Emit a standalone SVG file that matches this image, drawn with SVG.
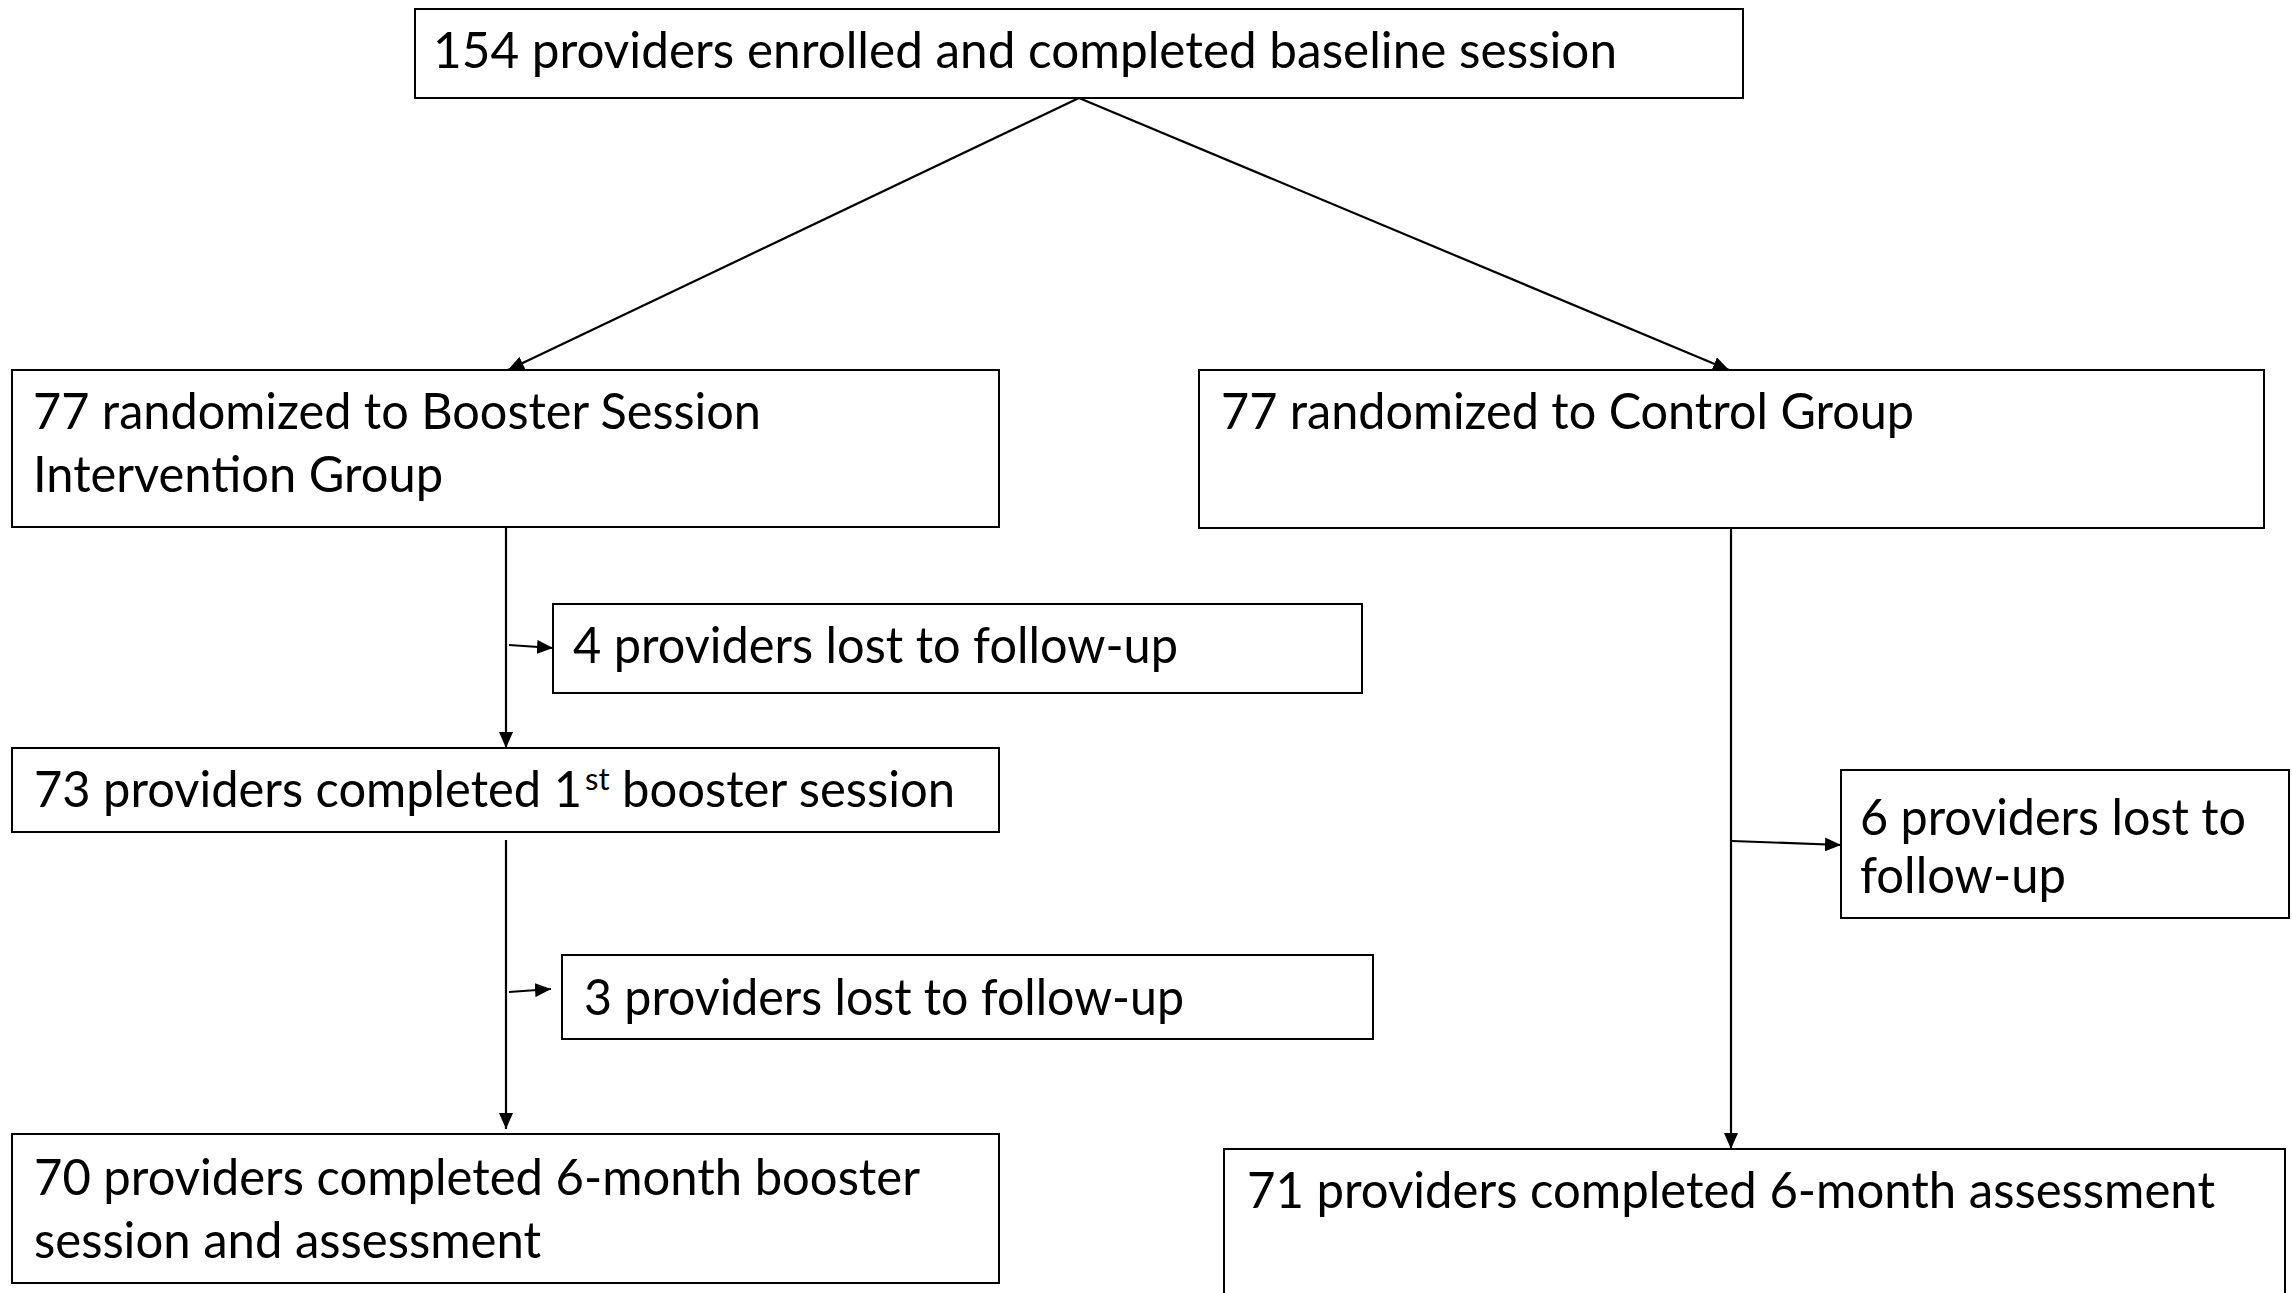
<svg xmlns="http://www.w3.org/2000/svg" width="2292" height="1293" viewBox="0 0 2292 1293">
  <defs>
    <marker id="arrow" markerUnits="userSpaceOnUse" markerWidth="16" markerHeight="14" refX="16" refY="7" orient="auto">
      <path d="M0,0 L16,7 L0,14 z" fill="#000"/>
    </marker>
    <style>
      .box { fill: #fff; stroke: #000; stroke-width: 2; }
      .lbl { font-family: "Lato", "Open Sans", "Liberation Sans", sans-serif; font-size: 50px; fill: #000; }
      .sup { font-size: 31px; }
      .link { fill: none; stroke: #000; stroke-width: 2.2; marker-end: url(#arrow); }
    </style>
  </defs>
  <rect width="2292" height="1293" fill="#fff"/>

  <!-- connectors -->
  <g id="connectors">
    <line class="link" x1="1079" y1="98" x2="508" y2="370"/>
    <line class="link" x1="1079" y1="98" x2="1729" y2="370"/>
    <line class="link" x1="506" y1="527" x2="506" y2="748"/>
    <line class="link" x1="509" y1="645" x2="553" y2="648"/>
    <line class="link" x1="506" y1="840" x2="506" y2="1129"/>
    <line class="link" x1="509" y1="992" x2="551" y2="989"/>
    <line class="link" x1="1731" y1="528" x2="1731" y2="1149"/>
    <line class="link" x1="1732" y1="841" x2="1841" y2="845"/>
  </g>

  <!-- enrolment -->
  <g id="enrolled">
    <rect class="box" x="415" y="9" width="1328" height="89"/>
    <text class="lbl" x="433" y="68" textLength="1184" lengthAdjust="spacingAndGlyphs">154 providers enrolled and completed baseline session</text>
  </g>

  <!-- intervention arm -->
  <g id="booster-group">
    <rect class="box" x="12" y="370" width="987" height="157"/>
    <text class="lbl" x="33" y="429" textLength="728" lengthAdjust="spacingAndGlyphs">77 randomized to Booster Session</text>
    <text class="lbl" x="33" y="492" textLength="410" lengthAdjust="spacingAndGlyphs">Intervention Group</text>
  </g>

  <g id="lost-booster-1">
    <rect class="box" x="553" y="604" width="809" height="89"/>
    <text class="lbl" x="573" y="663" textLength="605" lengthAdjust="spacingAndGlyphs">4 providers lost to follow-up</text>
  </g>

  <g id="first-booster">
    <rect class="box" x="12" y="748" width="987" height="84"/>
    <text class="lbl" x="34" y="807"><tspan textLength="548" lengthAdjust="spacingAndGlyphs">73 providers completed 1</tspan><tspan class="sup" x="585" y="790">st</tspan><tspan x="622" y="807" textLength="333" lengthAdjust="spacingAndGlyphs">booster session</tspan></text>
  </g>

  <g id="lost-booster-2">
    <rect class="box" x="562" y="955" width="811" height="84"/>
    <text class="lbl" x="584" y="1015" textLength="600" lengthAdjust="spacingAndGlyphs">3 providers lost to follow-up</text>
  </g>

  <g id="booster-6-month">
    <rect class="box" x="12" y="1134" width="987" height="149"/>
    <text class="lbl" x="34" y="1195" textLength="886" lengthAdjust="spacingAndGlyphs">70 providers completed 6-month booster</text>
    <text class="lbl" x="34" y="1258" textLength="507" lengthAdjust="spacingAndGlyphs">session and assessment</text>
  </g>

  <!-- control arm -->
  <g id="control-group">
    <rect class="box" x="1199" y="370" width="1065" height="158"/>
    <text class="lbl" x="1221" y="429" textLength="693" lengthAdjust="spacingAndGlyphs">77 randomized to Control Group</text>
  </g>

  <g id="lost-control">
    <rect class="box" x="1841" y="770" width="448" height="148"/>
    <text class="lbl" x="1860" y="835" textLength="386" lengthAdjust="spacingAndGlyphs">6 providers lost to</text>
    <text class="lbl" x="1860" y="893" textLength="206" lengthAdjust="spacingAndGlyphs">follow-up</text>
  </g>

  <g id="control-6-month">
    <rect class="box" x="1224" y="1149" width="1061" height="170"/>
    <text class="lbl" x="1247" y="1208" textLength="968" lengthAdjust="spacingAndGlyphs">71 providers completed 6-month assessment</text>
  </g>
</svg>
